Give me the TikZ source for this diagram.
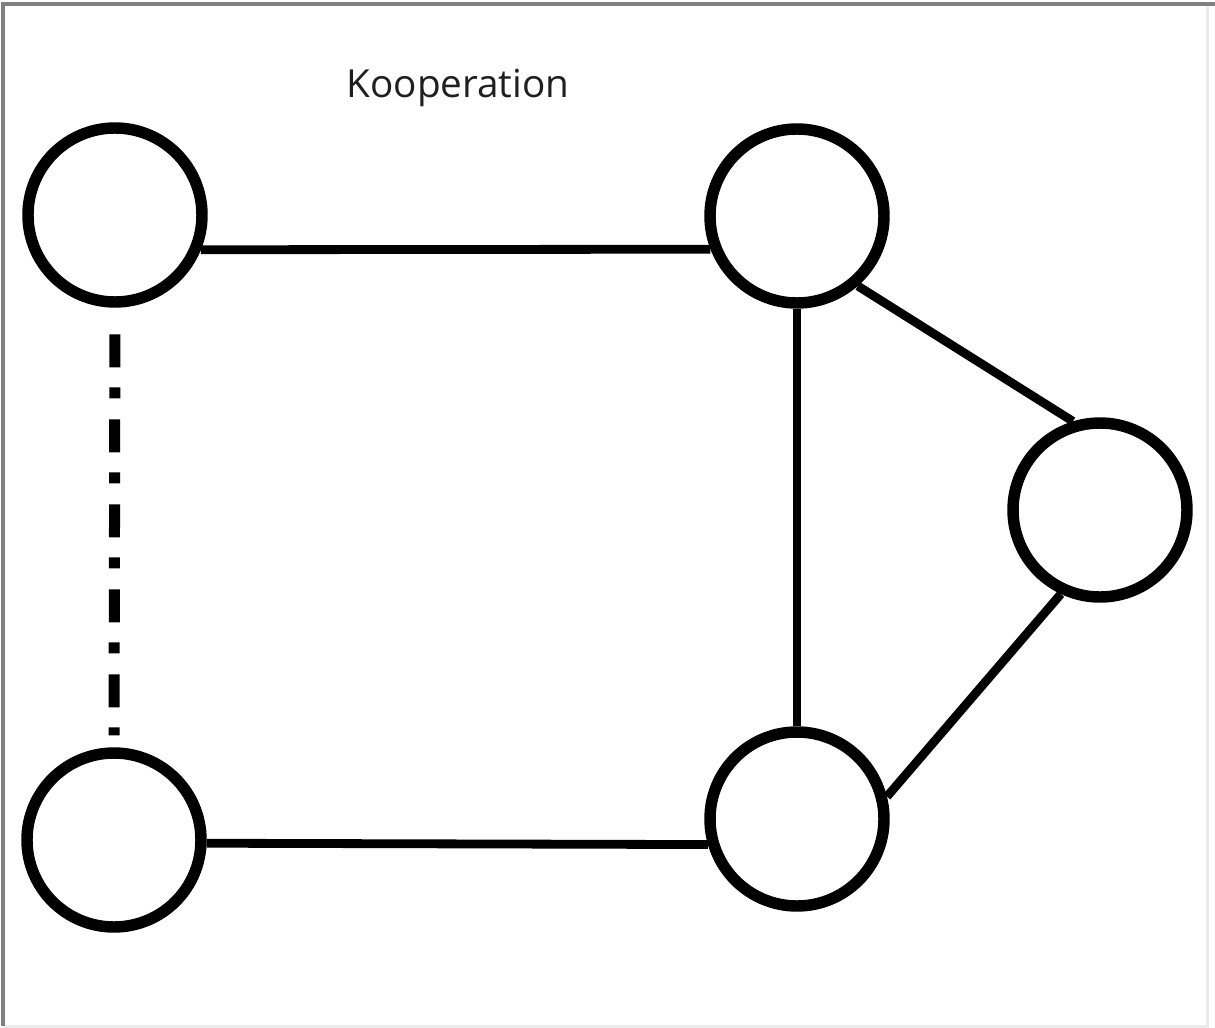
\documentclass[tikz,border=0pt]{standalone}
\usepackage{fontspec}
\setmainfont{Open Sans}
\begin{document}
\begin{tikzpicture}[x=0.75pt,y=-0.75pt,
  agent/.style={circle,draw=black,line width=8.6pt,minimum size=130.5pt,inner sep=0pt,fill=white},
  link/.style={draw=black,line width=6.6pt},
  dashdot link/.style={draw=black,line width=8.25pt,dash pattern=on 24.75pt off 15pt on 8.25pt off 15.75pt}]
\useasboundingbox (0,0) rectangle (1215,1028);
\fill[white] (0,0) rectangle (1215,1028);
% frame
\draw[black!8,line width=2.25pt] (1207,4) -- (1207,1026) -- (3,1026);
\draw[black!50,line width=2.6pt] (3,1026) -- (3,4) -- (1215,4);
% title
\node[anchor=base,font=\fontsize{29}{31}\selectfont,text=black!88] (title) at (458,97) {Kooperation};
% agents
\node[agent] (tl) at (115,215) {};
\node[agent] (tr) at (797,216) {};
\node[agent] (r)  at (1100,510) {};
\node[agent] (bl) at (114,840) {};
\node[agent] (br) at (797,819) {};
% connectors
\draw[link] (tl.-22) -- (tr.201);
\draw[link] (bl.-2) -- (br.196);
\draw[link] (tr.south) -- (br.north);
\draw[link] (tr.-49) -- (r.107);
\draw[link] (r.245) -- (br.14);
\draw[dashdot link,shorten <=20pt,shorten >=9pt] (tl.south) -- (bl.north);
\end{tikzpicture}
\end{document}
